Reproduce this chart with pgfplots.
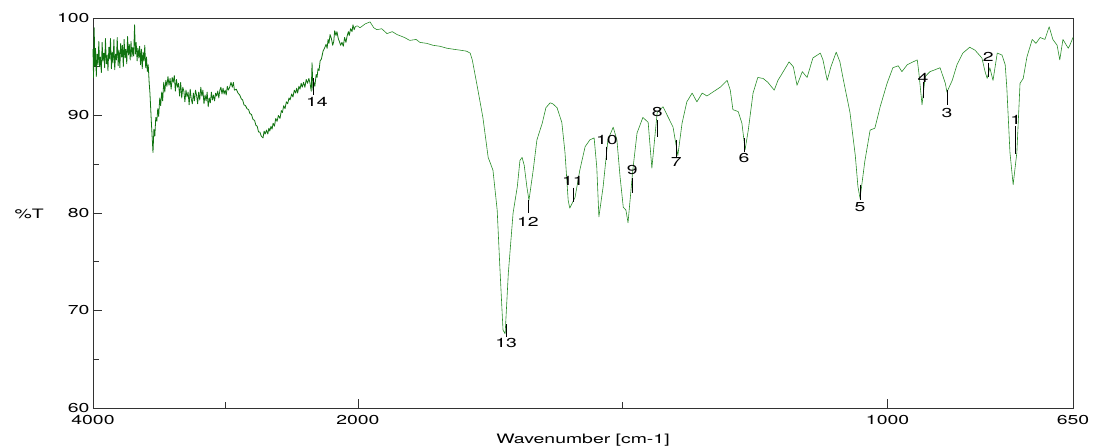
\documentclass[border=0pt]{standalone}
\usepackage{fontspec}
\setmainfont{TeX Gyre Heros}[FakeStretch=1.5]
\usepackage{pgfplots}
\pgfplotsset{compat=1.18}
\definecolor{spec}{RGB}{40,140,40}
\definecolor{specdark}{RGB}{15,115,15}
\definecolor{axgray}{RGB}{50,50,50}
\begin{document}
\begin{tikzpicture}
\path[use as bounding box] (-93bp,-40bp) rectangle (1002bp,408bp);
\begin{axis}[
  at={(0,0)}, anchor=south west,
  scale only axis, width=980bp, height=390bp,
  x coord trafo/.code={\pgfmathparse{#1>=2000 ? (4000-#1)/4 : 2500-#1}},
  x coord inv trafo/.code={\pgfmathparse{#1<=500 ? 4000-4*#1 : 2500-#1}},
  xmin=4000, xmax=650, ymin=60, ymax=100,
  xtick={4000,2000,1000,650}, xticklabels={4000,2000,1000,650},
  minor xtick={3000,1500},
  ytick={60,70,80,90,100}, yticklabels={60,70,80,90,100},
  minor ytick={65,75,85,95},
  xtick pos=bottom, ytick pos=left, tick align=inside,
  major tick length=9bp, minor tick length=6bp,
  tick style={axgray, line width=0.6pt},
  axis line style={axgray, line width=0.7pt},
  font=\fontsize{13}{15}\selectfont,
  /pgf/number format/assume math mode=true,
  xticklabel style={yshift=-4pt},
  clip=false,
]
% noisy high-wavenumber part
\addplot[specdark, line width=0.8pt, line join=round] coordinates {
(4000,96.8)(3996,93.9)(3991,99.0)(3986,95.1)(3981,96.9)(3975,94.0)(3969,96.3)(3962,95.2)
(3956,97.6)(3950,95.0)(3944,96.0)(3937,94.4)(3931,97.5)(3925,95.6)(3918,96.4)(3912,94.9)
(3906,97.9)(3899,95.3)(3893,96.2)(3887,94.6)(3880,97.0)(3874,95.8)(3868,97.9)(3861,94.8)
(3855,96.5)(3849,95.4)(3842,97.8)(3836,94.7)(3829,96.3)(3823,95.7)(3817,98.0)(3810,95.1)
(3804,96.7)(3797,94.9)(3791,97.4)(3784,96.0)(3778,97.2)(3771,95.0)(3765,97.8)(3758,95.9)
(3752,96.8)(3745,95.3)(3739,98.1)(3732,96.2)(3726,97.3)(3719,95.7)(3713,97.6)(3706,96.0)
(3700,97.0)(3693,96.1)(3686,99.3)(3680,96.3)(3674,97.5)(3667,95.6)(3661,96.9)(3654,95.9)
(3648,97.1)(3641,95.2)(3635,96.8)(3628,94.8)(3622,96.5)(3615,95.6)(3609,97.2)(3602,94.9)
(3596,96.0)(3590,94.5)(3583,95.2)(3576,93.4)(3570,92.3)(3560,89.5)(3547,86.2)
(3540,88.6)(3533,87.9)(3526,89.8)(3518,89.4)(3511,90.7)(3504,89.9)(3496,91.8)(3489,91.0)
(3481,92.4)(3474,91.5)(3466,93.4)(3458,92.4)(3450,93.6)(3442,93.0)(3434,94.0)(3426,93.1)
(3418,93.8)(3410,92.7)(3402,93.9)(3394,93.4)(3386,94.1)(3378,92.5)(3370,93.7)(3362,92.9)
(3354,93.3)(3346,92.0)(3338,93.4)(3330,91.8)(3322,92.9)(3314,92.5)(3306,91.4)(3298,92.6)
(3290,91.9)(3282,92.4)(3274,91.1)(3266,92.7)(3258,91.7)(3250,91.2)(3242,92.3)(3234,91.5)
(3226,92.6)(3218,92.1)(3210,91.2)(3202,92.4)(3194,91.6)(3186,92.9)(3178,92.0)(3170,92.6)
(3162,91.2)(3154,92.1)(3146,91.5)(3138,92.4)(3130,90.9)(3122,91.8)(3114,91.3)(3106,92.4)
(3098,91.6)(3090,92.1)(3082,91.5)(3074,92.3)(3066,92.0)(3058,92.5)(3050,91.8)(3042,92.6)
(3034,92.9)(3026,92.2)(3018,92.8)(3010,92.2)(3002,92.6)(2994,92.1)(2986,93.0)(2978,92.6)
(2968,92.9)(2958,93.4)(2948,92.9)(2940,93.4)(2932,92.6)
(2918,92.7)(2905,92.3)(2892,92.1)(2880,91.7)(2870,91.6)(2860,91.1)(2848,91.0)(2837,90.7)
(2825,90.6)(2815,90.2)(2803,90.1)(2792,89.6)(2780,89.5)(2770,89.0)(2760,88.9)(2750,88.3)
(2740,88.3)(2730,87.9)(2716,87.7)(2708,88.4)(2700,88.1)(2690,88.5)(2680,88.1)(2672,88.7)
(2665,88.4)(2656,88.9)(2648,88.6)(2640,89.2)(2630,88.9)(2620,89.7)(2610,89.4)(2600,90.0)
(2588,89.7)(2578,90.5)(2570,90.3)(2560,91.0)(2550,90.7)(2540,91.4)(2530,91.2)(2520,91.8)
(2512,91.6)(2500,92.2)(2490,91.9)(2480,92.6)(2470,92.3)(2462,92.8)(2455,92.3)(2445,93.0)
(2437,92.7)(2428,93.3)(2420,92.9)(2410,93.4)(2400,92.9)(2390,93.7)(2380,93.3)(2370,93.8)
(2361,93.3)(2352,92.5)(2346,95.4)(2339,92.6)(2332,93.4)(2325,93.0)(2315,94.2)(2308,93.9)
(2301,94.8)(2293,94.6)(2285,95.6)(2275,95.8)(2263,96.6)(2252,96.9)(2240,97.3)(2232,96.9)
(2225,97.8)(2218,97.4)(2210,98.3)(2200,97.9)(2190,97.2)(2182,97.6)(2175,98.7)(2165,98.2)
(2158,98.6)(2148,97.9)(2140,97.6)(2130,97.2)(2120,97.5)(2110,97.1)(2100,98.0)(2090,97.5)
(2082,98.1)(2072,98.6)(2065,98.2)(2055,98.9)(2044,98.6)(2037,99.3)(2028,98.8)(2020,99.1)
};
% remaining spectrum
\addplot[spec, line width=0.6pt, line join=round] coordinates {
(2020,99.1)(2005,99.2)(1996,99.0)(1986,99.4)
(1977,99.6)(1970,99.0)(1964,98.8)(1955,98.9)(1945,98.4)(1935,98.6)(1926,98.3)(1912,98.0)
(1902,97.7)(1890,97.8)(1883,97.5)(1870,97.4)(1858,97.2)(1845,97.1)(1832,96.9)(1820,96.8)
(1807,96.7)(1795,96.6)(1788,96.4)(1784,95.7)(1775,93.1)(1764,89.8)(1754,85.7)(1745,84.4)
(1737,80.3)(1732,74.5)(1726,68.0)(1722,67.6)(1716,73.8)(1707,80.0)(1699,82.7)(1694,85.4)
(1690,85.7)(1686,84.9)(1681,82.7)(1677,81.3)(1669,84.4)(1662,87.5)(1652,89.2)(1645,90.8)
(1637,91.3)(1632,91.2)(1624,90.8)(1615,89.3)(1609,86.2)(1603,81.3)(1600,80.5)(1590,81.6)
(1581,84.4)(1571,86.8)(1562,87.5)(1554,87.7)(1549,84.7)(1545,79.6)(1537,82.7)(1528,87.5)
(1518,88.8)(1511,87.5)(1505,83.7)(1499,80.6)(1494,80.3)(1490,79.0)(1481,84.4)(1473,88.2)
(1462,89.8)(1452,89.3)(1445,84.6)(1435,90.3)(1424,90.9)(1414,89.8)(1405,88.8)(1396,85.9)
(1388,89.2)(1379,91.4)(1369,92.3)(1360,91.4)(1350,92.3)(1341,92.0)(1330,92.4)(1316,92.9)
(1303,93.6)(1297,92.6)(1292,90.6)(1282,90.4)(1275,89.2)(1269,86.5)(1263,88.5)(1254,92.3)
(1245,93.9)(1235,93.8)(1226,93.4)(1214,92.6)(1207,93.6)(1197,94.5)(1186,95.5)(1178,95.0)
(1171,93.1)(1161,94.5)(1152,93.9)(1141,95.9)(1127,96.4)(1122,95.7)(1114,93.6)(1107,95.0)
(1097,96.5)(1090,95.5)(1084,93.8)(1071,90.3)(1061,85.9)(1056,82.7)(1052,81.5)(1043,85.3)
(1033,88.5)(1024,88.7)(1014,90.9)(1001,93.3)(990,94.9)(980,95.1)(973,94.5)(963,95.2)
(952,95.5)(944,95.7)(941,94.4)(935,91.1)(929,94.0)(920,94.5)(910,94.7)(901,94.9)
(891,93.3)(888,92.4)(878,93.6)(869,95.2)(858,96.4)(845,97.0)(835,96.7)(822,95.9)
(816,94.5)(812,93.8)(807,94.9)(801,93.6)(793,96.4)(784,96.2)(778,95.2)(775,92.9)
(769,86.2)(763,82.9)(756,86.2)(750,93.3)(744,93.8)(737,96.0)(727,97.8)(720,97.4)
(712,98.0)(703,97.8)(695,99.1)(688,97.8)(680,97.2)(675,95.7)(669,97.8)(659,96.9)
(656,97.2)(650,98.0)
};
% peak annotations
\begin{scope}[every node/.style={font=\fontsize{13}{15}\selectfont, inner sep=0pt}]
\draw[black, line width=0.8pt] (axis cs:758,88.9) -- (axis cs:758,86.1);
\node at (axis cs:758,89.5) {1};
\draw[black, line width=0.8pt] (axis cs:810,95.4) -- (axis cs:810,93.9);
\node at (axis cs:810,96.0) {2};
\draw[black, line width=0.8pt] (axis cs:888,92.6) -- (axis cs:888,91.1);
\node at (axis cs:888,90.3) {3};
\draw[black, line width=0.8pt] (axis cs:933,93.4) -- (axis cs:933,91.8);
\node at (axis cs:933,93.9) {4};
\draw[black, line width=0.8pt] (axis cs:1052,82.9) -- (axis cs:1052,81.3);
\node at (axis cs:1052,80.6) {5};
\draw[black, line width=0.8pt] (axis cs:1271,87.7) -- (axis cs:1271,86.3);
\node at (axis cs:1271,85.6) {6};
\draw[black, line width=0.8pt] (axis cs:1399,87.5) -- (axis cs:1399,85.7);
\node at (axis cs:1399,85.2) {7};
\draw[black, line width=0.8pt] (axis cs:1435,89.5) -- (axis cs:1435,87.8);
\node at (axis cs:1435,90.4) {8};
\draw[black, line width=0.8pt] (axis cs:1482,83.6) -- (axis cs:1482,82.0);
\node at (axis cs:1482,84.4) {9};
\draw[black, line width=0.8pt] (axis cs:1530,86.8) -- (axis cs:1530,85.4);
\node at (axis cs:1530,87.5) {10};
\draw[black, line width=0.8pt] (axis cs:1594,82.6) -- (axis cs:1594,81.1);
\node at (axis cs:1594,83.3) {11};
\draw[black, line width=0.8pt] (axis cs:1679,81.3) -- (axis cs:1679,80.0);
\node at (axis cs:1679,79.1) {12};
\draw[black, line width=0.8pt] (axis cs:1720,68.6) -- (axis cs:1720,67.3);
\node at (axis cs:1720,66.7) {13};
\draw[black, line width=0.8pt] (axis cs:2339,93.8) -- (axis cs:2339,92.1);
\node at (axis cs:2309,91.4) {14};
\end{scope}
\node[font=\fontsize{13}{15}\selectfont] at (rel axis cs:-0.065,0.497) {\%T};
\node[font=\fontsize{13}{15}\selectfont] at (rel axis cs:0.5,-0.082) {Wavenumber [cm-1]};
\end{axis}
\end{tikzpicture}
\end{document}
